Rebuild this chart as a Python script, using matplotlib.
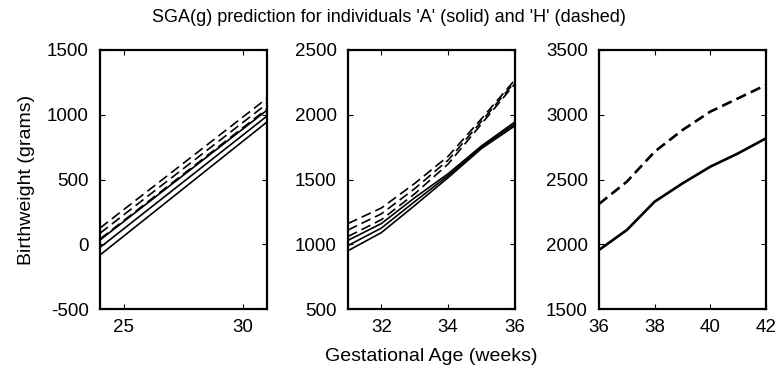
import numpy as np
import matplotlib
matplotlib.use("Agg")
import matplotlib.pyplot as plt

plt.rcParams.update({'font.family': ['Liberation Sans', 'DejaVu Sans'],
                     'axes.unicode_minus': False,
                     'axes.linewidth': 1.6,
                     'xtick.direction': 'in',
                     'ytick.direction': 'in',
                     'xtick.top': True,
                     'ytick.right': True,
                     'xtick.major.size': 3.5,
                     'ytick.major.size': 3.5,
                     'xtick.major.pad': 7.5,
                     'ytick.major.pad': 8,
                     'xtick.labelsize': 13.5,
                     'ytick.labelsize': 13.5})

# panel 1: 24-31 weeks
weeks1 = [24, 31]
solid1 = [[-83, 944], [-25, 990], [33, 1035]]
dashed1 = [[40, 1045], [85, 1085], [125, 1127]]

# panel 2: 31-36 weeks
weeks2 = [31, 32, 33, 34, 35, 36]
solid2 = [[950, 1090, 1300, 1515, 1740, 1915],
          [990, 1125, 1330, 1530, 1750, 1930],
          [1030, 1160, 1360, 1545, 1760, 1945]]
dashed2 = [[1060, 1190, 1390, 1620, 1930, 2240],
           [1110, 1235, 1430, 1650, 1950, 2255],
           [1160, 1280, 1470, 1680, 1970, 2270]]

# panel 3: 36-42 weeks
weeks3 = [36, 37, 38, 39, 40, 41, 42]
solid3 = [[1956, 2110, 2329, 2470, 2599, 2702, 2818]]
dashed3 = [[2311, 2483, 2715, 2882, 3024, 3127, 3230]]

panels = [
    (weeks1, solid1, dashed1, (24, 31), (-500, 1500), [25, 30], [-500, 0, 500, 1000, 1500]),
    (weeks2, solid2, dashed2, (31, 36), (500, 2500), [32, 34, 36], [500, 1000, 1500, 2000, 2500]),
    (weeks3, solid3, dashed3, (36, 42), (1500, 3500), [36, 38, 40, 42], [1500, 2000, 2500, 3000, 3500]),
]
lefts = [100, 348, 599]

fig = plt.figure(figsize=(7.78, 3.76), dpi=100)
for left, (wk, sol, dsh, xl, yl, xt, yt) in zip(lefts, panels):
    ax = fig.add_axes([left / 778, 1 - 309 / 376, 167 / 778, 259 / 376])
    lw = 1.9 if len(sol) == 1 else 1.2
    for s in sol:
        ax.plot(wk, s, color='black', lw=lw)
    for d in dsh:
        ax.plot(wk, d, color='black', lw=lw, dashes=(6, 3) if lw < 1.5 else (4, 2))
    ax.set_xlim(xl)
    ax.set_ylim(yl)
    ax.set_xticks(xt)
    ax.set_yticks(yt)
    if left == 100:
        ax.set_ylabel("Birthweight (grams)", fontsize=14, labelpad=9)
    if left == 348:
        ax.set_xlabel("Gestational Age (weeks)", fontsize=14, labelpad=8)

fig.text(0.5, 1 - 18 / 376, "SGA(g) prediction for individuals 'A' (solid) and 'H' (dashed)",
         ha='center', va='center', fontsize=13)

plt.savefig("out.png", dpi=100)
